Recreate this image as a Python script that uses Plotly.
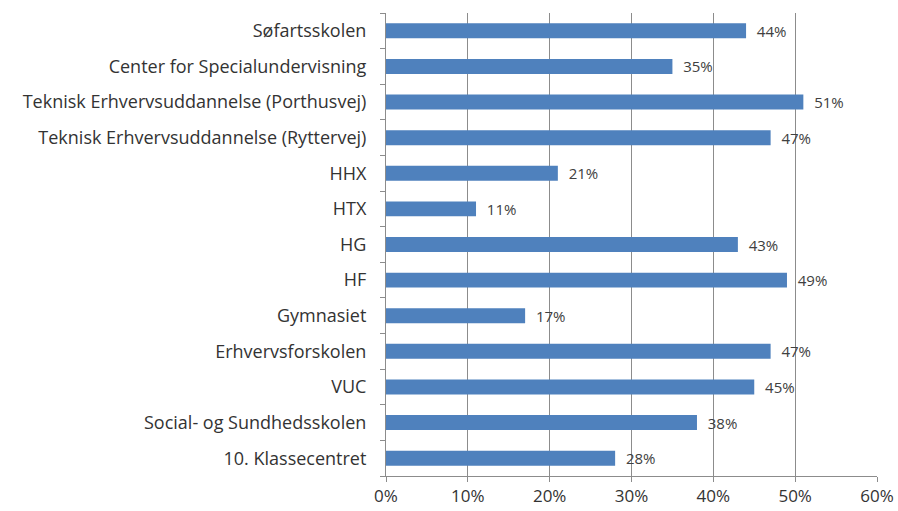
import plotly.graph_objects as go

categories = [
    "Søfartsskolen",
    "Center for Specialundervisning",
    "Teknisk Erhvervsuddannelse (Porthusvej)",
    "Teknisk Erhvervsuddannelse (Ryttervej)",
    "HHX",
    "HTX",
    "HG",
    "HF",
    "Gymnasiet",
    "Erhvervsforskolen",
    "VUC",
    "Social- og Sundhedsskolen",
    "10. Klassecentret",
]
values = [0.44, 0.35, 0.51, 0.47, 0.21, 0.11, 0.43, 0.49, 0.17, 0.47, 0.45, 0.38, 0.28]
x_ticks = [0, 0.1, 0.2, 0.3, 0.4, 0.5, 0.6]
x_tick_labels = ["0%", "10%", "20%", "30%", "40%", "50%", "60%"]

font_family = "Open Sans, Liberation Sans, sans-serif"

fig = go.Figure(
    go.Bar(
        x=values,
        y=categories,
        orientation="h",
        width=0.42,
        marker=dict(color="#4F81BD", line=dict(width=0)),
        text=["\u00a0\u00a0" + f"{round(v*100)}%" for v in values],
        textposition="outside",
        constraintext="none",
        textfont=dict(size=15, color="#404040", family=font_family),
        cliponaxis=False,
    )
)

fig.update_layout(
    width=898,
    height=511,
    margin=dict(l=386, r=21, t=13, b=35),
    plot_bgcolor="white",
    paper_bgcolor="white",
    showlegend=False,
    font=dict(family=font_family, color="#333333"),
)

fig.update_xaxes(
    range=[0, 0.6],
    tickvals=x_ticks,
    ticktext=x_tick_labels,
    showgrid=True,
    gridcolor="#8C8C8C",
    gridwidth=1,
    zeroline=False,
    showline=True,
    linecolor="#8C8C8C",
    ticks="outside",
    ticklen=5,
    tickcolor="#8C8C8C",
    tickfont=dict(size=17, color="#333333"),
    automargin=False,
)

fig.update_yaxes(
    categoryorder="array",
    categoryarray=categories[::-1],
    range=[-0.5, len(categories) - 0.5],
    showline=True,
    linecolor="#8C8C8C",
    ticks="outside",
    ticklen=5,
    tickcolor="#8C8C8C",
    tickson="boundaries",
    showgrid=False,
    tickfont=dict(size=18, color="#333333"),
    ticklabelstandoff=15,
    automargin=False,
)

fig.write_html(
    "out.html",
    config={"displayModeBar": False},
    post_script="document.body.style.margin='0';document.body.style.overflow='hidden';",
)
